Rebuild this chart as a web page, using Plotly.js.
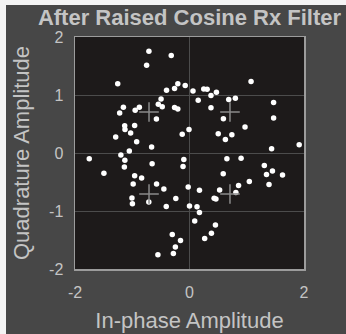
<!DOCTYPE html>
<html>
<head>
<meta charset="utf-8">
<script src="https://cdn.plot.ly/plotly-3.0.1.min.js"></script>
<style>
html,body{margin:0;padding:0;background:#f4f4f4;width:346px;height:334px;overflow:hidden;}
#chart{position:absolute;left:6px;top:5px;width:340px;height:329px;}
</style>
</head>
<body>
<div id="chart"></div>
<script>
// Received symbols after raised cosine Rx filter (In-phase, Quadrature)
const inPhase = [
 -0.709,-0.319,-0.749,-1.254,-0.204,-0.261,-0.075,-0.401,0.061,0.249,
  0.308,-0.497,-0.545,-0.476,0.152,0.375,0.470,0.375,-0.261,-0.204,
 -1.155,-1.220,-0.876,-0.949,-0.578,-1.132,-1.127,-0.958,-1.028,-1.289,
 -0.923,-0.662,-0.009,-0.127,-1.051,-1.199,-1.751,-0.099,1.075,0.685,
  0.801,1.469,0.592,1.469,0.970,0.502,0.740,0.627,1.434,1.916,
  0.653,0.901,-1.129,-0.653,-0.113,-1.138,-1.495,-0.958,-0.836,-0.984,
 -0.575,-0.448,-0.023,0.174,-0.239,-1.005,-0.997,-0.711,-0.406,0.000,
  0.131,0.174,0.091,-0.301,-0.157,-0.247,0.265,-0.282,-0.552,1.307,
  1.449,1.345,1.625,0.589,1.389,1.045,0.857,0.810,0.526,0.430,
  0.462,0.453,0.383
];
const quadrature = [
  1.753,1.679,1.512,1.193,1.193,1.110,1.162,1.081,1.069,1.103,
  1.100,0.931,0.840,0.797,0.909,0.991,1.047,0.779,0.783,0.759,
  0.788,0.690,0.788,0.736,0.586,0.469,0.405,0.472,0.345,0.274,
  0.193,0.102,0.405,0.322,0.034,-0.034,-0.100,-0.114,1.231,0.921,
  0.943,0.871,0.590,0.602,0.448,0.334,0.314,0.233,0.072,0.141,
 -0.097,-0.091,-0.126,-0.186,-0.234,-0.241,-0.350,-0.393,-0.431,-0.534,
 -0.534,-0.621,-0.586,-0.643,-0.784,-0.776,-0.876,-0.845,-0.924,-0.914,
 -0.928,-1.028,-1.174,-1.405,-1.510,-1.621,-1.474,-1.733,-1.755,-0.217,
 -0.310,-0.371,-0.379,-0.359,-0.543,-0.493,-0.562,-0.681,-0.640,-0.781,
 -0.793,-1.243,-1.384
];
// Reference QPSK constellation
const refI = [-0.707, 0.707, -0.707, 0.707];
const refQ = [0.707, 0.707, -0.707, -0.707];
const xTicks = [-2, 0, 2];
const yTicks = [-2, -1, 0, 1, 2];

const fontFam = 'Liberation Sans, Arial, Helvetica, sans-serif';
const txt = '#c4c4c4';

const data = [
  {
    x: inPhase, y: quadrature, type: 'scatter', mode: 'markers',
    marker: {color: '#ffffff', size: 5.5, line: {width: 0}},
    hoverinfo: 'x+y', showlegend: false
  },
  {
    x: refI, y: refQ, type: 'scatter', mode: 'markers',
    marker: {symbol: 'cross-thin-open', color: '#8a8a8a', size: 14, line: {color: '#8a8a8a', width: 1.5}},
    showlegend: false
  }
];

const layout = {
  width: 340, height: 329,
  paper_bgcolor: '#474747',
  plot_bgcolor: '#1d1a1a',
  margin: {l: 68.5, r: 42, t: 32, b: 65, pad: 0},
  font: {family: fontFam, color: txt, size: 16},
  title: {
    text: '<b>After Raised Cosine Rx Filter</b>',
    font: {family: fontFam, size: 22, color: txt},
    x: 0.5, xref: 'paper', xanchor: 'center',
    y: 0.962, yref: 'container', yanchor: 'middle'
  },
  xaxis: {
    range: [-2, 2], tickvals: xTicks, ticktext: xTicks.map(String),
    showgrid: true, gridcolor: '#4c4c4c', gridwidth: 1,
    zeroline: false, showline: true, mirror: true,
    linecolor: '#9c9c9c', linewidth: 1.5,
    ticks: '', ticklabelstandoff: 8,
    tickfont: {size: 16, color: txt},
    title: {text: 'In-phase Amplitude', font: {size: 22, color: txt}, standoff: 13},
    fixedrange: true
  },
  yaxis: {
    range: [-2, 2], tickvals: yTicks, ticktext: yTicks.map(String),
    showgrid: true, gridcolor: '#4c4c4c', gridwidth: 1,
    zeroline: false, showline: true, mirror: true,
    linecolor: '#9c9c9c', linewidth: 1.5,
    ticks: '', ticklabelstandoff: 7,
    tickfont: {size: 16, color: txt},
    title: {text: 'Quadrature Amplitude', font: {size: 22, color: txt}, standoff: 13},
    fixedrange: true
  }
};

Plotly.newPlot('chart', data, layout, {displayModeBar: false, staticPlot: true});
</script>
</body>
</html>
